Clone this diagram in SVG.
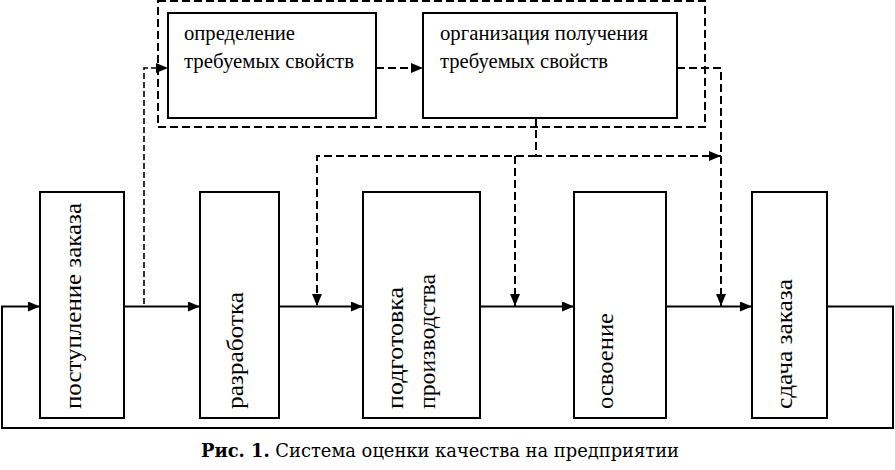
<svg xmlns="http://www.w3.org/2000/svg" width="895" height="470" viewBox="0 0 895 470">
<style>
.box{fill:#fff;stroke:#000;stroke-width:2}
.ln{fill:none;stroke:#000;stroke-width:2}
.dl{fill:none;stroke:#000;stroke-width:2;stroke-dasharray:8 4}
.t{font-family:"Liberation Serif","Times New Roman",serif;font-size:20px;fill:#000}
.r{font-family:"Liberation Serif","Times New Roman",serif;font-size:24px;fill:#000}
.cap{font-family:"DejaVu Serif","Liberation Serif",serif;font-size:17.8px;fill:#000}
</style>
<defs>
<marker id="ah" markerUnits="userSpaceOnUse" markerWidth="12" markerHeight="10" refX="12" refY="5" orient="auto">
<path d="M0,0 L12,5 L0,10 Z" fill="#000"/>
</marker>
</defs>
<rect width="895" height="470" fill="#fff"/>
<g id="connectors">
<rect class="dl" x="158" y="1" width="547" height="126"/>
<path class="ln" d="M124,306.5 H200" marker-end="url(#ah)"/>
<path class="ln" d="M279,306.5 H363" marker-end="url(#ah)"/>
<path class="ln" d="M480,306.5 H574" marker-end="url(#ah)"/>
<path class="ln" d="M666,306.5 H752" marker-end="url(#ah)"/>
<path class="ln" d="M827,306.5 H893 V428 H2 V306.5 H40" marker-end="url(#ah)"/>
<path class="dl" d="M144,304 V68 H168" marker-end="url(#ah)" style="stroke-width:1.6;stroke-dasharray:6 3"/>
<path class="dl" d="M376,68 H423" marker-end="url(#ah)"/>
<path class="dl" d="M677,68 H721 V306" marker-end="url(#ah)"/>
<path class="dl" d="M536,118 V156 H721" marker-end="url(#ah)"/>
<path class="dl" d="M536,156 H317 V306" marker-end="url(#ah)"/>
<path class="dl" d="M515,156 V306" marker-end="url(#ah)"/>
</g>
<g id="n1">
<rect class="box" x="168" y="13" width="208" height="105"/>
<text class="t" x="184" y="40" textLength="111" lengthAdjust="spacingAndGlyphs">определение</text>
<text class="t" x="184" y="68" textLength="170" lengthAdjust="spacingAndGlyphs">требуемых свойств</text>
</g>
<g id="n2">
<rect class="box" x="423" y="13" width="254" height="105"/>
<text class="t" x="440" y="40" textLength="208" lengthAdjust="spacingAndGlyphs">организация получения</text>
<text class="t" x="440" y="68" textLength="168" lengthAdjust="spacingAndGlyphs">требуемых свойств</text>
</g>
<g id="a">
<rect class="box" x="40" y="192" width="84" height="226"/>
<text class="r" transform="translate(81,409) rotate(-90)" textLength="206" lengthAdjust="spacingAndGlyphs">поступление заказа</text>
</g>
<g id="b">
<rect class="box" x="200" y="192" width="79" height="226"/>
<text class="r" transform="translate(243,409) rotate(-90)" textLength="117" lengthAdjust="spacingAndGlyphs">разработка</text>
</g>
<g id="c">
<rect class="box" x="363" y="192" width="117" height="226"/>
<text class="r" transform="translate(403,409) rotate(-90)" textLength="122" lengthAdjust="spacingAndGlyphs">подготовка</text>
<text class="r" transform="translate(435,409) rotate(-90)" textLength="135" lengthAdjust="spacingAndGlyphs">производства</text>
</g>
<g id="d">
<rect class="box" x="574" y="192" width="92" height="226"/>
<text class="r" transform="translate(613,409) rotate(-90)" textLength="96" lengthAdjust="spacingAndGlyphs">освоение</text>
</g>
<g id="e">
<rect class="box" x="752" y="192" width="75" height="226"/>
<text class="r" transform="translate(792,409) rotate(-90)" textLength="130" lengthAdjust="spacingAndGlyphs">сдача заказа</text>
</g>
<text class="cap" x="201" y="457" textLength="478" lengthAdjust="spacingAndGlyphs"><tspan font-weight="bold">Рис. 1.</tspan> Система оценки качества на предприятии</text>
</svg>
